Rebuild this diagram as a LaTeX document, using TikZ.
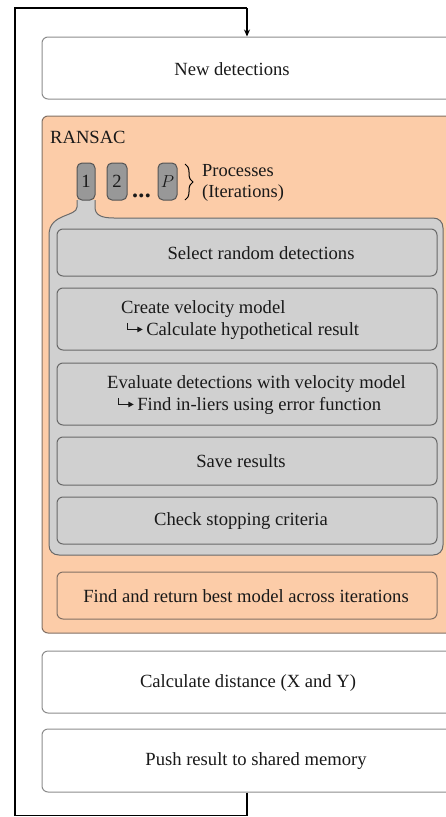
\documentclass[tikz,border=0pt]{standalone}
\usepackage{fontspec}
\setmainfont{Liberation Serif}
\usetikzlibrary{arrows.meta,decorations.pathreplacing}

\definecolor{peach}{RGB}{252,204,168}
\definecolor{peachline}{RGB}{130,112,100}
\definecolor{panel}{RGB}{208,208,208}
\definecolor{panelline}{RGB}{105,105,105}
\definecolor{tabfill}{RGB}{152,152,152}
\definecolor{whiteline}{RGB}{140,140,140}
\definecolor{ink}{RGB}{25,25,25}

% small hooked arrow used in front of sub-steps
\newcommand\hookarr{\tikz[baseline=0pt,x=1pt,y=1pt]\draw[line width=1.1pt,-{Triangle[length=5.5pt,width=5.5pt]}] (0,12.5) -- (0,6) -- (15,6);\hspace{3pt}}

\begin{document}
\begin{tikzpicture}[x=1pt,y=-1pt,
  every node/.style={text=ink},
  txt/.style={font=\fontsize{18.6}{22}\selectfont, inner sep=0pt},
  wbox/.style={draw=whiteline, line width=1pt, fill=white, rounded corners=6pt, inner sep=0pt, minimum width=428pt},
  obox/.style={draw=peachline, line width=1pt, fill=peach, rounded corners=6pt, inner sep=0pt},
  gbox/.style={draw=panelline, line width=1pt, fill=panel, rounded corners=6pt, inner sep=0pt, minimum width=380pt},
  tabbox/.style={draw=panelline!80!black, line width=1pt, fill=tabfill, rounded corners=5pt, inner sep=0pt, minimum height=37pt, font=\fontsize{18.6}{22}\selectfont},
  loopline/.style={draw=black, line width=1.4pt}
]
\useasboundingbox (0,0) rectangle (446,817);
\clip (0,0) rectangle (446,817);

% outer stages
\node[wbox, minimum height=62pt] (newdet) at (256,68) {};
\node[obox, minimum width=428pt, minimum height=517pt] (ransac) at (256,374.5) {};
\node[wbox, minimum height=62pt] (calc) at (256,682) {};
\node[wbox, minimum height=63pt] (push) at (256,760.5) {};

\node[txt] (newdet-t) at (232,69) {New detections};
\node[txt, anchor=base west] (ransac-t) at (50,143) {RANSAC};
\node[txt] (calc-t) at (248,683) {Calculate distance (X and Y)};
\node[txt] (push-t) at (256,761) {Push result to shared memory};

% grey panel of one process, flaring out of its tab
\draw[draw=panelline, line width=1pt, fill=panel]
  (77,200) -- (77,207) .. controls (77,217) and (49,213) .. (49,235)
  -- (49,545) .. controls (49,551) and (53,555) .. (59,555)
  -- (433,555) .. controls (439,555) and (443,551) .. (443,545)
  -- (443,228) .. controls (443,222) and (439,218) .. (433,218)
  -- (114,218) .. controls (101,218) and (95,215) .. (95,207) -- (95,200);

% process tabs
\node[tabbox, minimum width=18pt] (tab1) at (86,181.5) {1};
\node[tabbox, minimum width=20pt] (tab2) at (117,181.5) {2};
\node[tabbox, minimum width=19pt] (tabP) at (167.5,181.5) {$P$};
\node[font=\fontsize{24}{24}\bfseries\selectfont, inner sep=0pt, anchor=base] (dots) at (141.5,197) {.\hspace{0.5pt}.\hspace{0.5pt}.};
\coordinate (br1) at (185,164);
\coordinate (br2) at (185,200);
\draw[line width=1pt, decorate, decoration={brace, amplitude=8pt}] (br1) -- (br2);
\node[font=\fontsize{18.4}{21}\selectfont, inner sep=0pt, align=left, anchor=west] (proc-t) at (202,183) {Processes\\(Iterations)};

% steps inside a process
\node[gbox, minimum height=47pt] (sel) at (247,252.5) {};
\node[gbox, minimum height=62pt] (vel) at (247,319) {};
\node[gbox, minimum height=62pt] (eval) at (247,394) {};
\node[gbox, minimum height=48pt] (save) at (247,461) {};
\node[gbox, minimum height=47pt] (check) at (247,520.5) {};
\node[obox, minimum width=380pt, minimum height=47pt] (best) at (247,595.5) {};

\node[txt] (sel-t) at (261,253) {Select random detections};
\node[txt, align=left, anchor=west] (vel-t) at (121,320) {Create velocity model\\\hspace*{6pt}\hookarr Calculate hypothetical result};
\node[txt, align=left, anchor=west] (eval-t) at (107,395) {Evaluate detections with velocity model\\\hspace*{11pt}\hookarr Find in-liers using error function};
\node[txt] (save-t) at (241,461.5) {Save results};
\node[txt] (check-t) at (241,521) {Check stopping criteria};
\node[txt] (best-t) at (246,596) {Find and return best model across iterations};

% feedback loop
\coordinate (lpx) at (247,0);
\coordinate (lb) at (247,815.5);
\coordinate (llb) at (15,815.5);
\coordinate (llt) at (15,8);
\coordinate (lt) at (247,8);
\draw[loopline] (push.south -| lpx) -- (lb) -- (llb) -- (llt) -- (lt);
\draw[loopline, -{Stealth[length=7pt,width=6pt]}] (lt) -- (newdet.north -| lpx);
\end{tikzpicture}
\end{document}
